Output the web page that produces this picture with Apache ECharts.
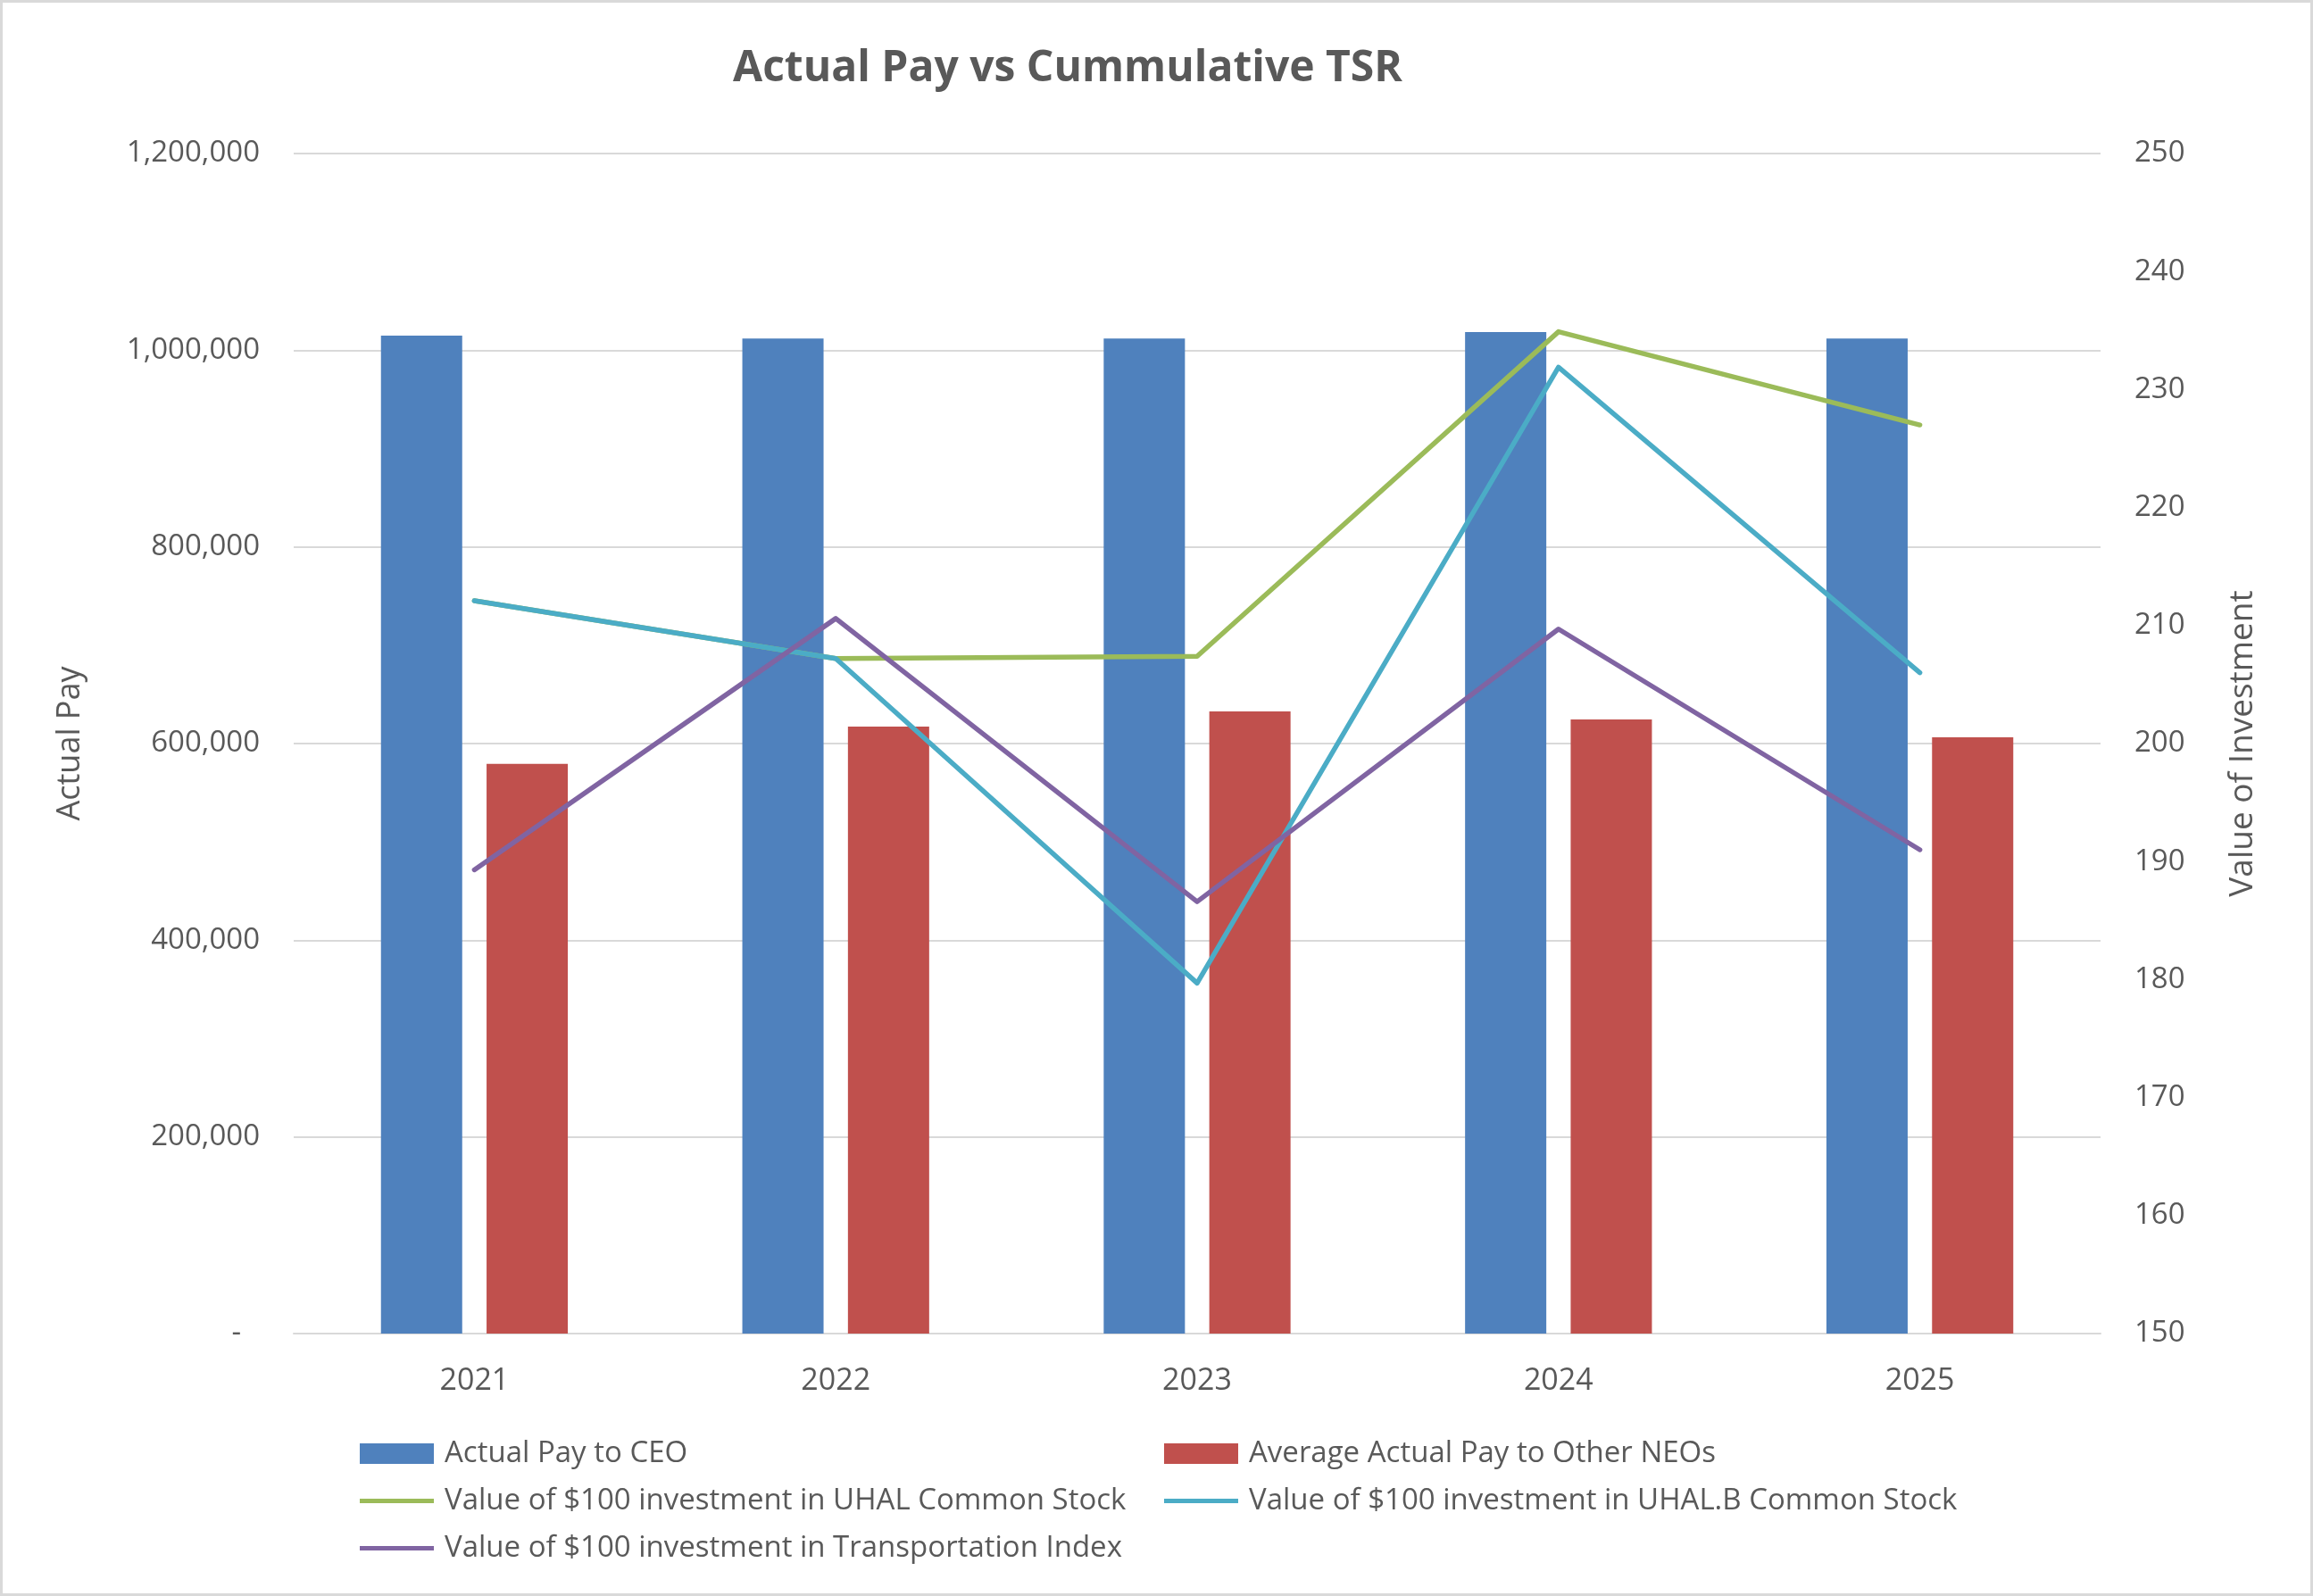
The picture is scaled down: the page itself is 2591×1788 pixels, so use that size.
<!DOCTYPE html>
<html>
<head>
<meta charset="utf-8">
<script src="https://cdn.jsdelivr.net/npm/echarts@6/dist/echarts.min.js"></script>
<style>
  html, body { margin: 0; padding: 0; background: #ffffff; }
  #chart { width: 2591px; height: 1788px; }
</style>
</head>
<body>
<div id="chart"></div>
<script>
const YEARS = ["2021", "2022", "2023", "2024", "2025"];
const CEO_PAY = [1014800, 1011800, 1011800, 1018400, 1011800];
const NEO_PAY = [579400, 617200, 632600, 624500, 606300];
const UHAL_VALUE = [212.1, 207.2, 207.4, 234.9, 227.0];
const UHALB_VALUE = [212.1, 207.2, 179.7, 231.9, 206.0];
const TRANSPORT_VALUE = [189.3, 210.6, 186.6, 209.7, 191.0];

const SERIES_NAMES = {
  ceo: "Actual Pay to CEO",
  neo: "Average Actual Pay to Other NEOs",
  uhal: "Value of $100 investment in UHAL Common Stock",
  uhalB: "Value of $100 investment in UHAL.B Common Stock",
  transport: "Value of $100 investment in Transportation Index"
};

const textColor = "#595959";
const gridColor = "#d9d9d9";
const fontFamily = "'Open Sans', sans-serif";
const lineIcon = "path://M0,0L83,0L83,5L0,5Z";

const chart = echarts.init(document.getElementById("chart"));

function lineSeries(name, data, color) {
  return {
    name,
    type: "line",
    yAxisIndex: 1,
    data,
    symbol: "none",
    lineStyle: { color, width: 5.5, cap: "round", join: "round" },
    itemStyle: { color },
    z: 3
  };
}

const legendBase = {
  orient: "vertical",
  padding: 0,
  itemWidth: 83,
  itemHeight: 23,
  itemGap: 20,
  textStyle: { color: textColor, fontSize: 33, lineHeight: 33, fontFamily, padding: [0, 0, 0, 7] },
  selectedMode: false
};

const option = {
  animation: false,
  backgroundColor: "#ffffff",
  title: {
    text: "Actual Pay vs Cummulative TSR",
    left: 1191,
    textAlign: "center",
    top: 48,
    textStyle: { color: textColor, fontSize: 48, fontWeight: "bold", fontFamily }
  },
  grid: { left: 329, right: 238, top: 172, bottom: 294 },
  legend: [
    Object.assign({}, legendBase, {
      left: 403,
      top: 1612,
      data: [
        { name: SERIES_NAMES.ceo, icon: "rect" },
        { name: SERIES_NAMES.uhal, icon: lineIcon },
        { name: SERIES_NAMES.transport, icon: lineIcon }
      ]
    }),
    Object.assign({}, legendBase, {
      left: 1304,
      top: 1612,
      data: [
        { name: SERIES_NAMES.neo, icon: "rect" },
        { name: SERIES_NAMES.uhalB, icon: lineIcon }
      ]
    })
  ],
  xAxis: {
    type: "category",
    data: YEARS,
    axisLine: { show: true, lineStyle: { color: gridColor, width: 2 } },
    axisTick: { show: false },
    axisLabel: { color: textColor, fontSize: 34, fontFamily, margin: 36 }
  },
  yAxis: [
    {
      type: "value",
      min: 0,
      max: 1200000,
      interval: 200000,
      name: "Actual Pay",
      nameLocation: "middle",
      nameGap: 232,
      nameTextStyle: { color: textColor, fontSize: 36, fontFamily },
      axisLine: { show: false },
      axisTick: { show: false },
      axisLabel: {
        color: textColor,
        fontSize: 33,
        fontFamily,
        margin: 38,
        formatter: v => (v === 0 ? "{dash|-}" : v.toLocaleString("en-US")),
        rich: { dash: { color: textColor, fontSize: 33, fontFamily, padding: [0, 21, 0, 0] } }
      },
      splitLine: { show: true, lineStyle: { color: gridColor, width: 2 } }
    },
    {
      type: "value",
      min: 150,
      max: 250,
      interval: 10,
      position: "right",
      name: "Value of Investment",
      nameLocation: "middle",
      nameGap: 141,
      nameTextStyle: { color: textColor, fontSize: 37, fontFamily },
      axisLine: { show: false },
      axisTick: { show: false },
      axisLabel: { color: textColor, fontSize: 33, fontFamily, margin: 38 },
      splitLine: { show: false }
    }
  ],
  series: [
    {
      name: SERIES_NAMES.ceo,
      type: "bar",
      data: CEO_PAY,
      barWidth: 91,
      barGap: "30%",
      itemStyle: { color: "#4f81bd" }
    },
    {
      name: SERIES_NAMES.neo,
      type: "bar",
      data: NEO_PAY,
      barWidth: 91,
      barGap: "30%",
      itemStyle: { color: "#c0504d" }
    },
    lineSeries(SERIES_NAMES.uhal, UHAL_VALUE, "#9bbb59"),
    lineSeries(SERIES_NAMES.uhalB, UHALB_VALUE, "#4bacc6"),
    lineSeries(SERIES_NAMES.transport, TRANSPORT_VALUE, "#8064a2")
  ],
  graphic: [
    {
      type: "rect",
      silent: true,
      z: 100,
      shape: { x: 1.5, y: 1.5, width: 2588, height: 1785 },
      style: { fill: null, stroke: gridColor, lineWidth: 3 }
    }
  ]
};

chart.setOption(option);
</script>
</body>
</html>
